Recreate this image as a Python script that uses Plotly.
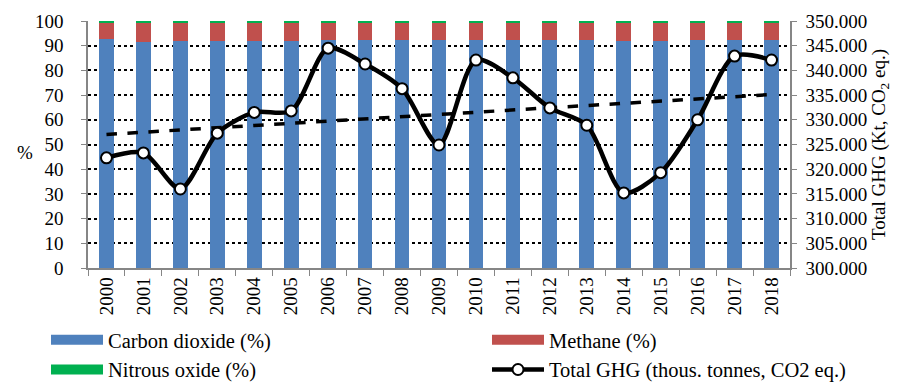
import numpy as np
import plotly.graph_objects as go

years = [str(y) for y in range(2000, 2019)]
co2_pct = [92.6, 91.6, 91.8, 92.0, 92.0, 92.0, 92.3, 92.4, 92.3, 92.2,
           92.5, 92.5, 92.5, 92.5, 92.0, 91.9, 92.3, 92.5, 92.5]
n2o_pct = [0.8, 0.8, 0.8, 0.8, 0.8, 0.8, 0.8, 0.8, 0.8, 0.8,
           0.8, 0.8, 0.8, 0.8, 0.8, 0.8, 0.8, 0.8, 0.8]
ch4_pct = [round(100 - c - n, 1) for c, n in zip(co2_pct, n2o_pct)]
total_ghg = [322300, 323300, 316000, 327300, 331500, 331800, 344500, 341300, 336300, 324900,
             342100, 338500, 332400, 328900, 315200, 319300, 330000, 342900, 342100]

# linear trend of total GHG
xi = np.arange(len(years))
coef = np.polyfit(xi, total_ghg, 1)
trend = np.polyval(coef, xi)

FONT = "Liberation Serif, Times New Roman, serif"
fs = 19
lfs = 20.5
grey = "#868686"
L, R, T, B = 88, 122, 21, 114
W, H = 912, 382
PW, PH = W - L - R, H - T - B

series = [("Carbon dioxide (%)", co2_pct, "#4F81BD", "legend", "a"),
          ("Methane (%)", ch4_pct, "#C0504D", "legend2", "b"),
          ("Nitrous oxide (%)", n2o_pct, "#00B050", "legend", "c")]

fig = go.Figure()
for name, vals, col, leg, grp in series:
    fig.add_bar(x=years, y=vals, name=name, marker_color=col, marker_line_width=0,
                showlegend=False, legendgroup=grp)
for name, vals, col, leg, grp in series:
    # legend proxy drawn as a wide rectangle
    fig.add_scatter(x=[None], y=[None], mode="lines", name=name, legend=leg, legendgroup=grp,
                    line=dict(color=col, width=12), hoverinfo="skip")
fig.add_scatter(x=years, y=trend, yaxis="y2", mode="lines", showlegend=False,
                line=dict(color="black", width=3.5, dash="dash"), hoverinfo="skip")
fig.add_scatter(x=years, y=total_ghg, yaxis="y2", mode="lines+markers",
                name="Total GHG (thous. tonnes, CO2 eq.)", legend="legend2", legendgroup="d",
                line=dict(color="black", width=4.5, shape="spline", smoothing=0.8),
                marker=dict(size=11, color="white", line=dict(color="black", width=2)))

leg_common = dict(orientation="v", yanchor="top", y=(T + PH - 320) / PH, xanchor="left",
                  itemwidth=52, font=dict(family=FONT, size=lfs), traceorder="grouped",
                  tracegroupgap=0, bgcolor="rgba(0,0,0,0)")

fig.update_layout(
    barmode="stack", bargap=0.6,
    width=W, height=H,
    margin=dict(l=L, r=R, t=T, b=B, autoexpand=False),
    paper_bgcolor="white", plot_bgcolor="white",
    font=dict(family=FONT, size=fs, color="black"),
    separators=",.",
    showlegend=True,
    legend=dict(leg_common, x=(46 - L) / PW),
    legend2=dict(leg_common, x=(487 - L) / PW),
    xaxis=dict(type="category", range=[-0.5, len(years) - 0.5], tickangle=-90,
               showline=True, linecolor=grey, linewidth=1.5,
               ticks="outside", tickson="boundaries", tickcolor=grey, ticklen=6,
               tickfont=dict(family=FONT, size=fs), showgrid=False, mirror=False),
    yaxis=dict(range=[0, 100], dtick=10, showline=True, linecolor=grey, linewidth=1.5,
               ticks="outside", tickcolor=grey, ticklen=5, ticklabelstandoff=14,
               showgrid=True, gridcolor="black", gridwidth=1.5, griddash="dot",
               zeroline=False, tickfont=dict(family=FONT, size=fs)),
    yaxis2=dict(range=[300000, 350000], dtick=5000, overlaying="y", side="right",
                tickformat=",d", showline=True, linecolor=grey, linewidth=1.5,
                ticks="outside", tickcolor=grey, ticklen=5, ticklabelstandoff=5,
                showgrid=False, zeroline=False,
                tickfont=dict(family=FONT, size=fs),
                title=dict(text="Total GHG (Kt, CO<sub>2</sub> eq.)",
                           font=dict(family=FONT, size=fs), standoff=5)),
)
fig.add_annotation(text="%", xref="paper", yref="paper", showarrow=False,
                   x=(15 - L) / PW, y=(T + PH - 152) / PH,
                   font=dict(family=FONT, size=fs))

fig.write_html("out.html", config={"displayModeBar": False},
               post_script="document.body.style.margin='0';document.body.style.overflow='hidden';")
